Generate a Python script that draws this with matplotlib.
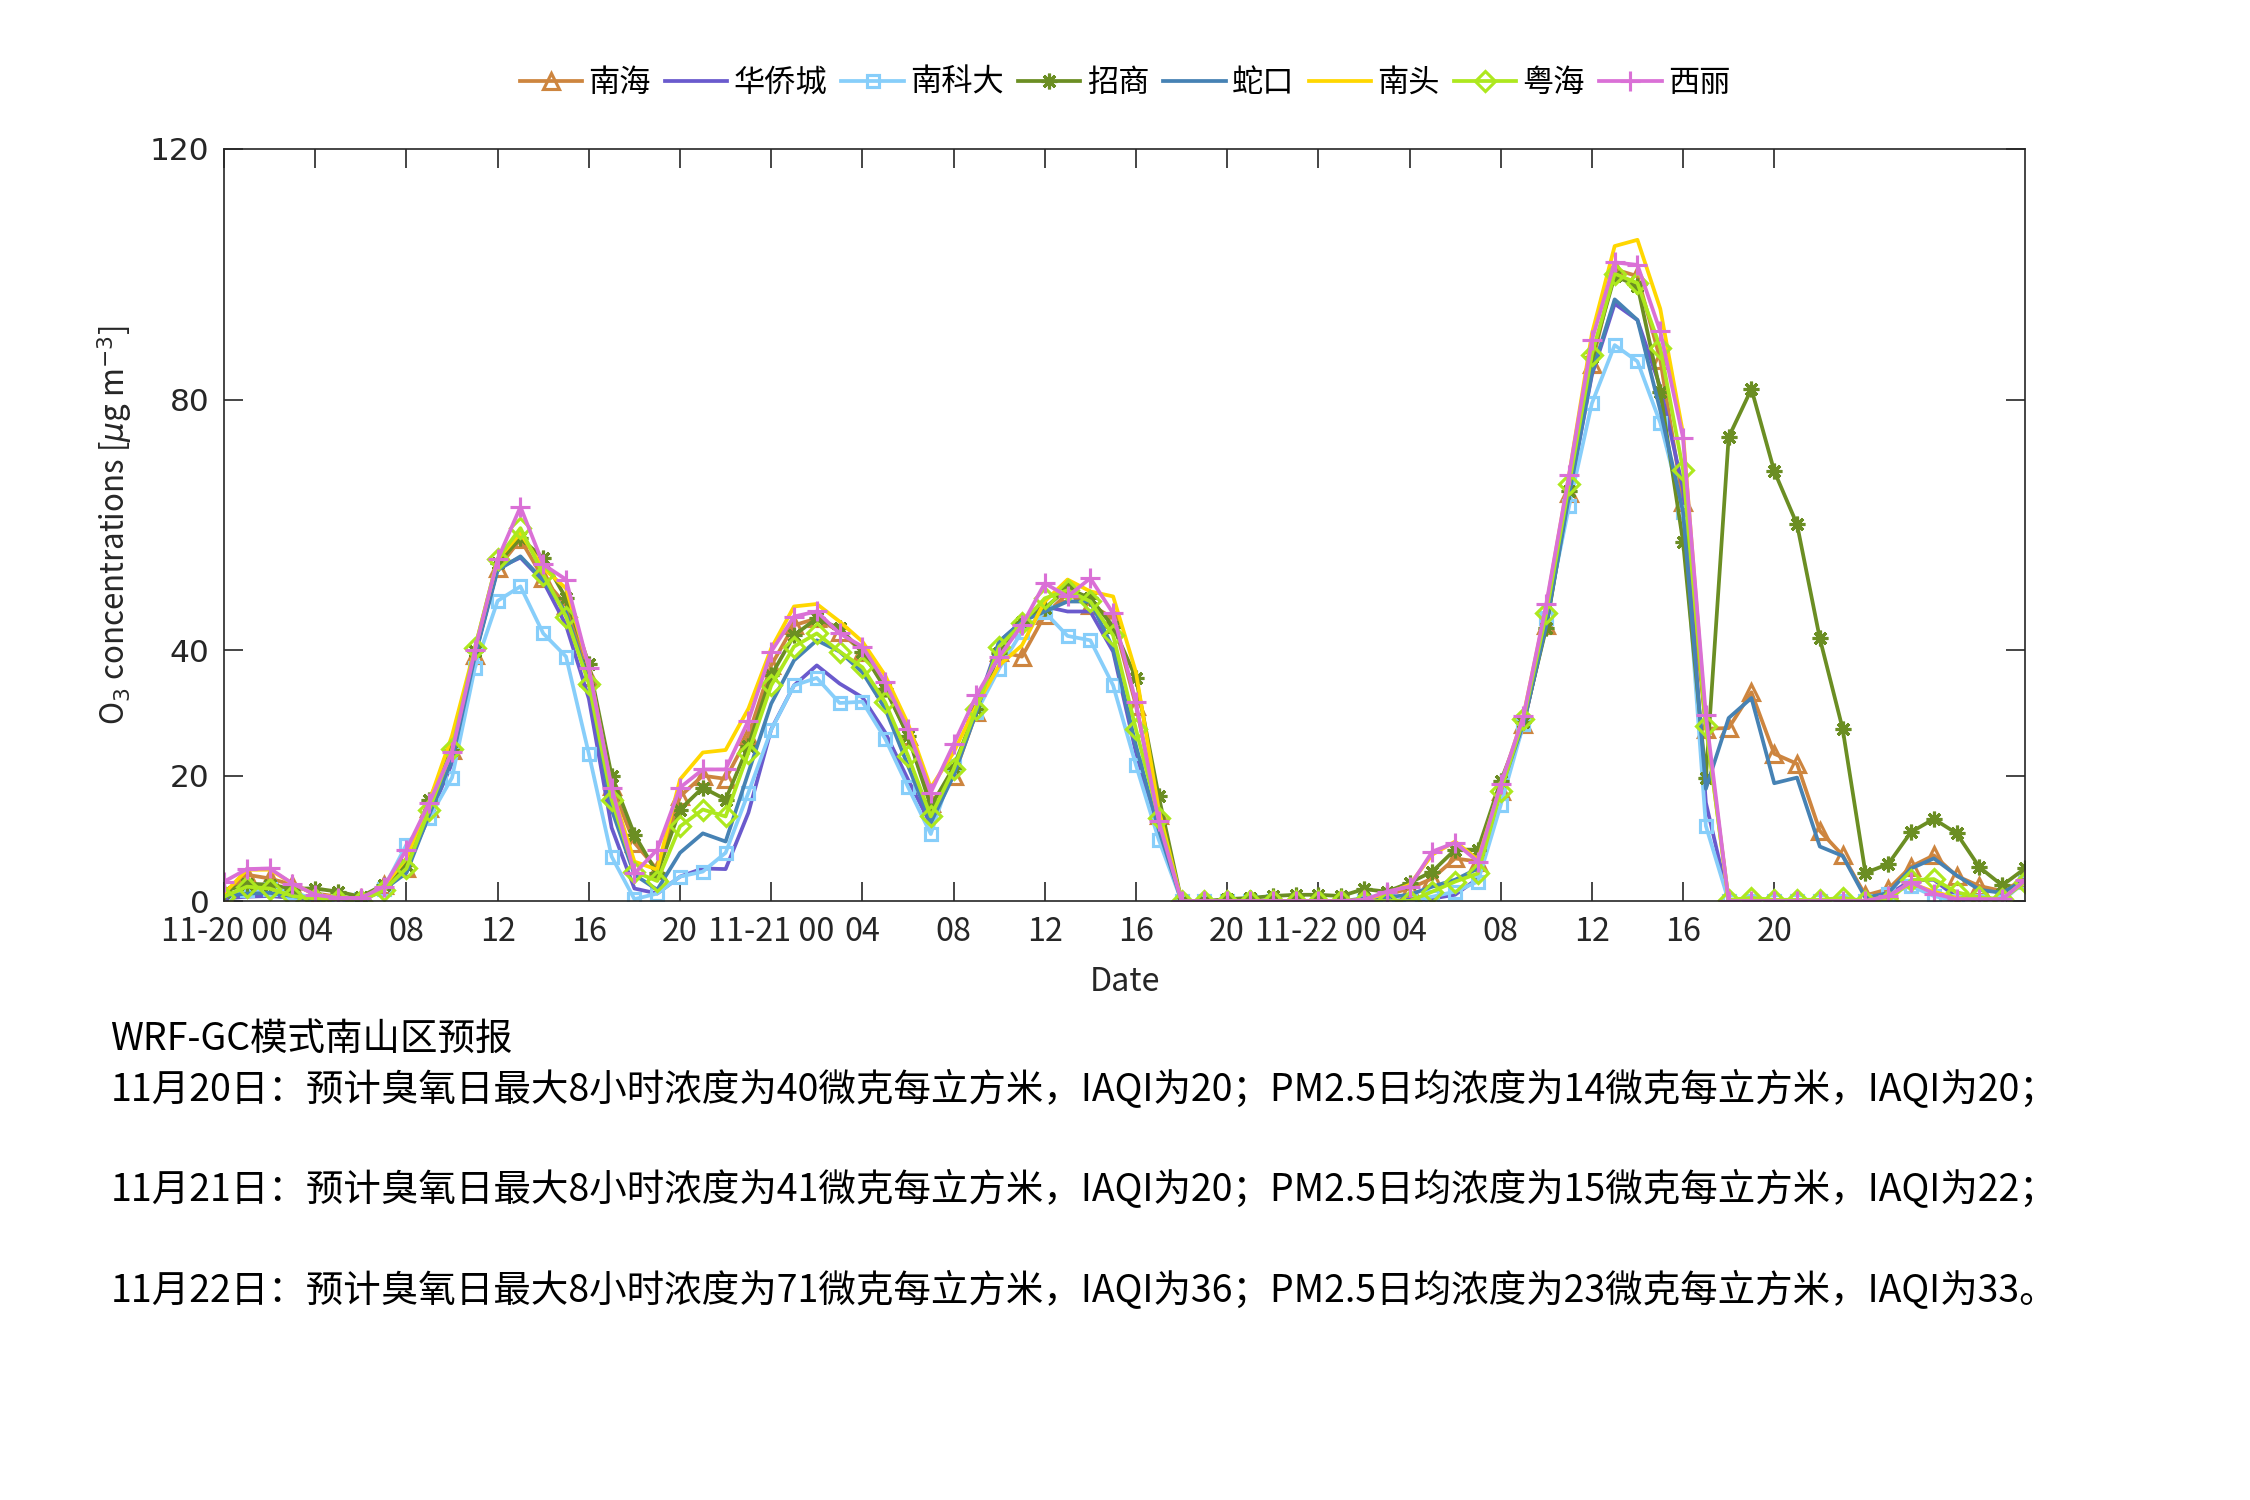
import matplotlib
matplotlib.use("Agg")
import matplotlib.pyplot as plt
import numpy as np

plt.rcParams['font.family'] = ['Noto Sans CJK SC', 'DejaVu Sans']
plt.rcParams['mathtext.fontset'] = 'dejavusans'

hours = list(range(80))
tick_pos = list(range(0, 69, 4))
tick_labels = ['11-20 00', '04', '08', '12', '16', '20',
               '11-21 00', '04', '08', '12', '16', '20',
               '11-22 00', '04', '08', '12', '16', '20']
ytick_vals = [0, 20, 40, 80, 120]

names = ['南海', '华侨城', '南科大', '招商', '蛇口', '南头', '粤海', '西丽']

nanhai = [1.1, 4.2, 3.6, 2.6, 1.2, 0.7, 0.3, 2.6, 5.2, 14.9,
          24.1, 39.3, 53.1, 57.7, 51.5, 47.2, 35.7, 18.4, 9.3, 5.0,
          16.7, 20.0, 19.5, 26.4, 37.6, 44.0, 45.1, 43.0, 39.8, 34.1,
          26.4, 15.7, 19.9, 30.1, 39.8, 39.0, 45.6, 49.1, 47.3, 45.1,
          31.2, 13.8, 0, 0, 0, 0, 0, 0, 0, 0,
          0, 1.0, 2.0, 3.6, 6.8, 6.3, 17.5, 28.2, 44.1, 65.1,
          85.7, 100.8, 99.7, 86.4, 63.6, 27.5, 27.6, 33.3, 23.5, 21.9,
          11.2, 7.3, 0.9, 1.9, 5.5, 7.3, 4.0, 2.4, 1.6, 3.5]

huaqiaocheng = [0.4, 0.7, 0.8, 0.5, 0.2, 0.1, 0.1, 1.7, 5.5, 13.5,
                22.0, 39.2, 53.1, 54.8, 51.0, 44.0, 32.3, 11.7, 2.0, 1.2,
                3.9, 5.2, 5.1, 14.1, 27.4, 34.4, 37.6, 34.7, 32.5, 26.9,
                19.4, 12.2, 20.5, 30.9, 41.4, 44.6, 47.0, 46.2, 46.2, 39.8,
                23.7, 10.9, 0, 0, 0, 0, 0, 0, 0, 0,
                0, 0, 0.2, 0.4, 1.0, 3.6, 17.8, 28.0, 44.5, 64.7,
                83.9, 95.3, 92.7, 82.0, 65.8, 15.7, 0, 0, 0, 0,
                0, 0, 0, 1.0, 3.3, 3.4, 0.6, 0.3, 0.3, 3.2]

nankeda = [0.7, 1.7, 2.0, 1.5, 0.2, 0.0, 0.4, 2.0, 9.0, 13.3,
           19.7, 37.2, 47.9, 50.2, 42.7, 39.0, 23.5, 7.1, 0.3, 1.2,
           3.9, 4.7, 7.7, 17.3, 27.3, 34.4, 35.6, 31.6, 31.8, 25.9,
           18.2, 10.7, 21.6, 30.1, 37.1, 43.0, 46.1, 42.3, 41.6, 34.4,
           21.7, 9.8, 0, 0, 0, 0, 0, 0, 0, 0,
           0, 0, 0, 0.7, 1.5, 3.1, 15.3, 28.2, 45.2, 63.0,
           79.4, 88.7, 86.1, 76.3, 62.1, 12.0, 0, 0, 0, 0,
           0, 0, 0, 1.1, 2.4, 0.8, 0, 0, 0, 3.1]

zhaoshang = [1.5, 2.8, 2.6, 2.0, 2.0, 1.5, 0.7, 2.6, 5.8, 16.2,
             24.1, 39.9, 53.9, 57.9, 54.7, 48.3, 37.9, 20.0, 10.6, 4.4,
             14.6, 18.1, 16.2, 24.8, 36.0, 42.4, 45.1, 43.5, 39.8, 33.9,
             26.4, 15.1, 21.3, 30.7, 39.5, 44.6, 46.7, 49.9, 48.3, 43.8,
             35.6, 16.7, 0, 0, 0.3, 0.5, 0.8, 1.0, 1.0, 0.8,
             1.9, 1.5, 2.9, 4.7, 8.2, 8.2, 19.1, 28.5, 43.6, 65.4,
             86.8, 99.7, 98.2, 81.3, 57.3, 19.7, 74.0, 81.7, 68.6, 60.1,
             41.9, 27.5, 4.5, 5.9, 11.0, 13.1, 10.8, 5.4, 2.5, 5.2]

shekou = [0.8, 1.2, 1.3, 0.8, 0.3, 0.2, 0.2, 1.8, 4.5, 13.8,
          22.5, 39.0, 52.8, 55.0, 51.2, 46.0, 35.0, 14.6, 4.2, 1.8,
          7.7, 10.8, 9.5, 20.5, 31.5, 38.4, 41.6, 39.8, 36.5, 30.7,
          21.6, 12.5, 20.0, 30.1, 41.4, 44.6, 46.2, 47.8, 47.8, 40.3,
          24.8, 11.4, 0, 0, 0, 0, 0, 0, 0, 0,
          0.4, 0.6, 1.0, 2.3, 3.4, 5.2, 17.8, 28.3, 44.0, 64.7,
          84.2, 96.0, 92.7, 78.3, 62.1, 17.9, 29.2, 32.4, 18.8, 19.7,
          8.7, 7.2, 0.5, 1.3, 5.2, 6.8, 4.1, 1.8, 1.3, 3.4]

nantou = [1.2, 5.0, 5.0, 2.8, 1.0, 0.6, 0.4, 2.3, 6.8, 15.9,
          26.4, 40.3, 54.5, 58.7, 53.1, 49.9, 37.3, 17.8, 6.3, 5.0,
          19.4, 23.7, 24.1, 30.7, 40.3, 47.0, 47.4, 44.6, 41.4, 36.0,
          28.3, 18.1, 23.7, 31.2, 37.6, 40.8, 47.8, 51.3, 49.4, 48.6,
          36.5, 14.6, 0, 0, 0, 0, 0, 0, 0, 0,
          0.2, 1.2, 2.6, 7.4, 9.5, 6.6, 18.4, 29.6, 47.0, 68.0,
          90.5, 104.5, 105.5, 94.5, 74.6, 28.2, 0, 0.3, 0, 0,
          0, 0, 0, 0.8, 2.8, 1.5, 0.5, 0.3, 0.3, 3.3]

yuehai = [0.7, 2.3, 2.0, 0.8, 0.4, 0.2, 0, 1.7, 5.2, 14.6,
          24.2, 40.3, 54.6, 59.5, 52.1, 45.4, 34.7, 16.2, 4.7, 3.2,
          11.9, 14.6, 13.5, 23.7, 34.4, 40.6, 42.7, 39.8, 37.3, 31.7,
          23.2, 13.5, 21.0, 30.7, 40.6, 44.3, 48.3, 49.6, 47.8, 42.4,
          27.4, 13.3, 0, 0, 0, 0, 0, 0, 0, 0,
          0, 0, 0, 1.5, 3.1, 4.4, 17.5, 29.0, 45.9, 66.5,
          87.2, 100.1, 98.6, 88.3, 68.8, 27.9, 0.2, 0.5, 0.2, 0.2,
          0.2, 0.5, 0, 0, 3.3, 3.5, 1.4, 0.6, 0.3, 3.0]

xili = [3.1, 5.1, 5.2, 2.8, 1.0, 0.5, 0.5, 2.3, 8.2, 15.7,
        23.8, 40.0, 54.5, 62.9, 53.7, 51.3, 37.2, 18.1, 4.4, 8.2,
        18.1, 21.0, 21.0, 28.8, 39.8, 45.4, 46.2, 42.7, 40.6, 34.9,
        27.4, 17.3, 25.0, 32.8, 39.0, 44.0, 50.7, 48.6, 51.5, 45.9,
        31.7, 12.7, 0, 0, 0, 0, 0, 0, 0, 0,
        0.2, 1.5, 2.3, 7.9, 9.3, 6.3, 18.6, 29.5, 47.4, 68.0,
        89.5, 101.9, 101.5, 90.9, 73.9, 29.7, 0, 0, 0, 0,
        0, 0, 0, 0.8, 3.0, 1.2, 0.3, 0.3, 0.3, 3.3]

title_line = 'WRF-GC模式南山区预报'
forecast_lines = [
    '11月20日：预计臭氧日最大8小时浓度为40微克每立方米，IAQI为20；PM2.5日均浓度为14微克每立方米，IAQI为20；',
    '11月21日：预计臭氧日最大8小时浓度为41微克每立方米，IAQI为20；PM2.5日均浓度为15微克每立方米，IAQI为22；',
    '11月22日：预计臭氧日最大8小时浓度为71微克每立方米，IAQI为36；PM2.5日均浓度为23微克每立方米，IAQI为33。',
]

series = [nanhai, huaqiaocheng, nankeda, zhaoshang, shekou, nantou, yuehai, xili]
colors = ['#CD853F', '#6A5ACD', '#87CEFA', '#6B8E23', '#4682B4', '#FFD700', '#ADE81E', '#DA70D6']
markers = ['^', None, 's', (8, 2, 0), None, None, 'D', '+']
msizes = [7.5, 0, 6, 7.5, 0, 0, 6.5, 10]

fig = plt.figure(figsize=(15, 10), dpi=150)
ax = fig.add_axes([0.0996, 0.3993, 0.8004, 0.5014])

for vals, name, c, m, ms in zip(series, names, colors, markers, msizes):
    kw = dict(color=c, lw=1.8, label=name)
    if m is not None:
        kw.update(marker=m, markersize=ms, markerfacecolor='none',
                  markeredgecolor=c, markeredgewidth=1.5)
    ax.plot(hours, vals, **kw)

ax.set_xlim(0, 79)
ax.set_ylim(0, 120)
ax.set_xticks(tick_pos)
ax.set_xticklabels(tick_labels, fontsize=15.5)
ax.set_yticks(ytick_vals)
ax.set_yticklabels([str(v) for v in ytick_vals], fontsize=15, family='DejaVu Sans')
ax.tick_params(direction='in', length=9, width=0.8, colors='#262626',
               top=True, right=True, pad=7)
for s in ax.spines.values():
    s.set_color('#262626')
    s.set_linewidth(0.8)

ax.set_xlabel('Date', fontsize=15.5, color='#262626', labelpad=9)
ax.set_ylabel(r'O$_3$ concentrations [$\mu$g m$^{-3}$]', fontsize=15,
              color='#262626', labelpad=7)

fig.legend(loc='center', bbox_to_anchor=(0.5, 0.945), ncol=8, frameon=False,
           fontsize=15, handlelength=2.0, handletextpad=0.2, columnspacing=0.45)

fig.text(0.049, 0.307, title_line, fontsize=18, va='center', ha='left', color='black')
ys = [0.273, 0.206, 0.139]
for y, line in zip(ys, forecast_lines):
    fig.text(0.049, y, line, fontsize=18, va='center', ha='left', color='black')

fig.savefig('out.png', dpi=150)
